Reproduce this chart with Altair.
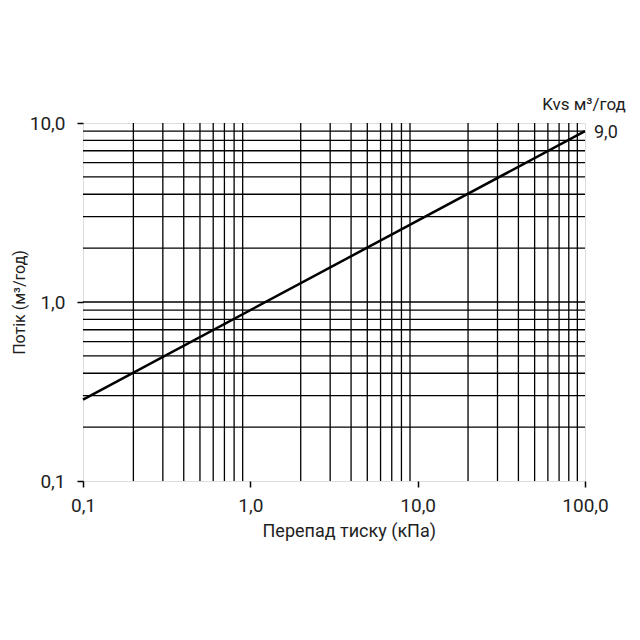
import altair as alt
import pandas as pd

# Data
dp_kpa = [0.1, 100.0]
flow = [0.285, 9.0]
x_grid = [0.2, 0.3, 0.4, 0.5, 0.6, 0.7, 0.8, 0.9,
          2, 3, 4, 5, 6, 7, 8, 9,
          20, 30, 40, 50, 60, 70, 80, 90]
y_grid = [0.2, 0.3, 0.4, 0.5, 0.6, 0.7, 0.8, 0.9,
          1.0,
          2, 3, 4, 5, 6, 7, 8, 9]
x_decades = [0.1, 1, 10, 100]
y_decades = [0.1, 1, 10]
kvs_value = 9.0
kvs_label = "9,0"
kvs_title = "Kvs м³/год"

FONT = "Roboto"
TXT = "#1e1e1e"
xs = alt.Scale(type="log", domain=[0.1, 100], nice=False)
ys = alt.Scale(type="log", domain=[0.1, 10], nice=False)

label_expr = "replace(format(datum.value, '.1f'), '.', ',')"

line_df = pd.DataFrame({"x": dp_kpa, "y": flow})
xg = pd.DataFrame({"x": x_grid})
yg = pd.DataFrame({"y": y_grid})

base_axes = alt.Chart(line_df).mark_line(color="black", strokeWidth=2.5).encode(
    x=alt.X("x:Q", scale=xs,
            axis=alt.Axis(values=x_decades, labelExpr=label_expr, title="Перепад тиску (кПа)",
                          grid=False, tickSize=6, tickColor="black", tickWidth=1.5,
                          domain=False, labelFont=FONT, labelFontSize=19, labelPadding=9,
                          labelColor=TXT, titleFont=FONT, titleFontSize=18,
                          titleFontWeight="normal", titleColor=TXT, titlePadding=7,
                          titleAlign="left", titleX=179,
                          labelFlush=False)),
    y=alt.Y("y:Q", scale=ys,
            axis=alt.Axis(values=y_decades, labelExpr=label_expr, title="Потік (м³/год)",
                          grid=False, tickSize=6, tickColor="black", tickWidth=1.5,
                          domain=False, labelFont=FONT, labelFontSize=19, labelPadding=12,
                          labelColor=TXT, titleFont=FONT, titleFontSize=16,
                          titleFontWeight="normal", titleColor=TXT, titlePadding=2,
                          labelFlush=False)),
)

vgrid = alt.Chart(xg).mark_rule(color="black", strokeWidth=1.3).encode(
    x=alt.X("x:Q", scale=xs)
)
hgrid = alt.Chart(yg).mark_rule(color="black", strokeWidth=1.3).encode(
    y=alt.Y("y:Q", scale=ys)
)

ann_df = pd.DataFrame({"x": [100.0], "y": [kvs_value], "t": [kvs_label]})
val_text = alt.Chart(ann_df).mark_text(
    align="left", baseline="middle", dx=9, dy=2, font=FONT, fontSize=18, color=TXT
).encode(x=alt.X("x:Q", scale=xs), y=alt.Y("y:Q", scale=ys), text="t:N")

title_df = pd.DataFrame({"x": [100.0], "y": [10.0], "t": [kvs_title]})
title_text = alt.Chart(title_df).mark_text(
    align="center", baseline="middle", dx=-1, dy=-18, font=FONT, fontSize=17, color=TXT
).encode(x=alt.X("x:Q", scale=xs), y=alt.Y("y:Q", scale=ys), text="t:N")

chart = alt.layer(vgrid, hgrid, base_axes, val_text, title_text).properties(
    width=502, height=358,
    autosize=alt.AutoSizeParams(type="none"),
    padding={"left": 83, "top": 123, "right": 55, "bottom": 159},
).configure_view(stroke="black", strokeWidth=2.2).configure(background="white")

chart.save("out.html", embed_options={"renderer": "svg", "actions": False})
